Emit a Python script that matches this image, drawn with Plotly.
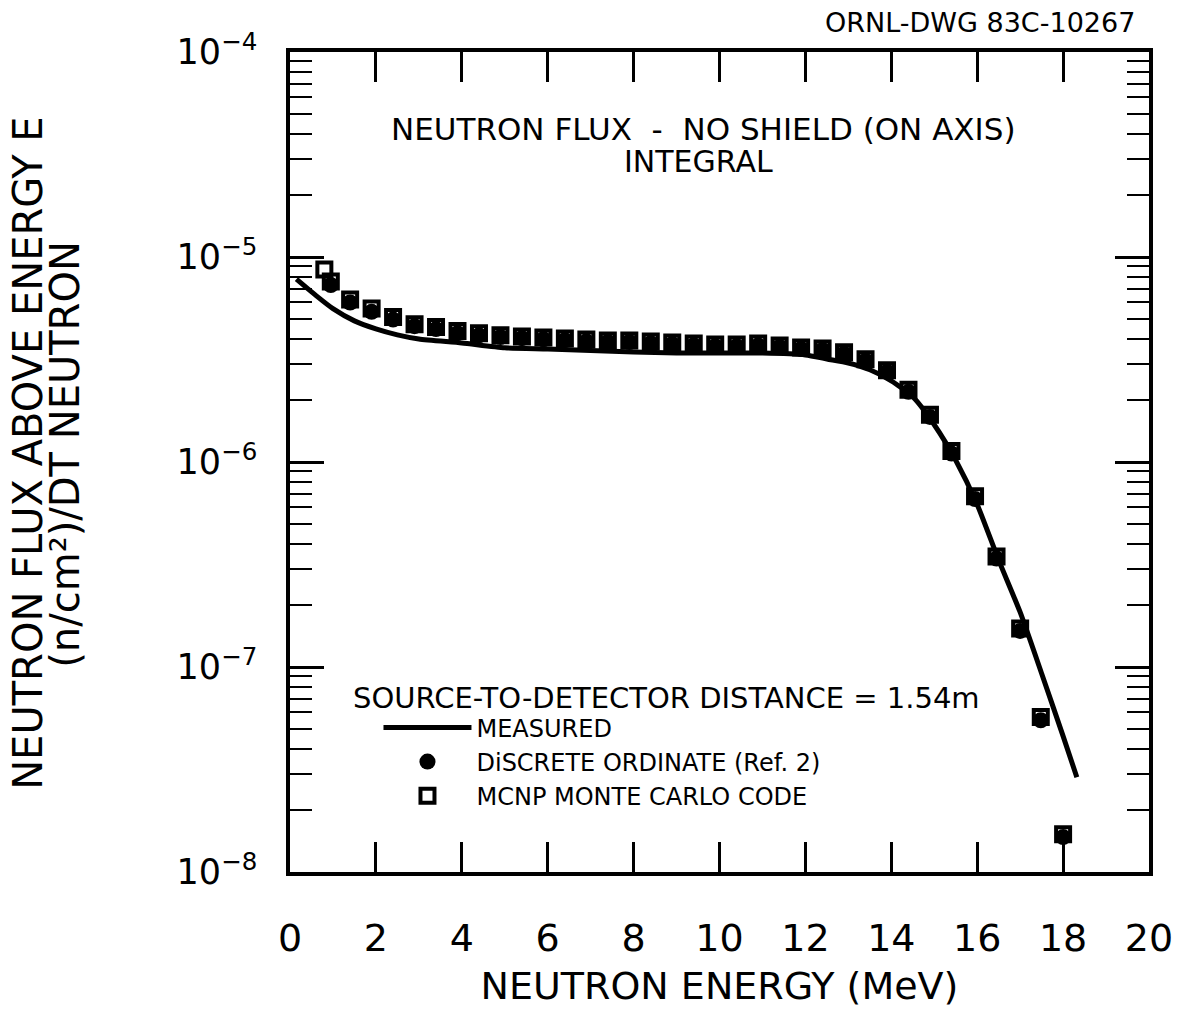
import plotly.graph_objects as go

# ---------------- data ----------------
measured_e = [0.15, 0.6, 1.0, 1.5, 2.0, 2.5, 3.0, 4.0, 5.0, 6.0, 7.0, 8.0, 9.0, 10.0,
              11.0, 12.0, 12.5, 13.0, 13.5, 14.0, 14.5, 15.0, 15.5, 16.0, 16.5, 17.0,
              17.5, 18.0, 18.32]
measured_flux = [7.8e-6, 6.5e-6, 5.6e-6, 4.88e-6, 4.46e-6, 4.17e-6, 3.98e-6, 3.81e-6,
                 3.61e-6, 3.56e-6, 3.5e-6, 3.44e-6, 3.4e-6, 3.4e-6, 3.4e-6, 3.33e-6,
                 3.18e-6, 3.04e-6, 2.82e-6, 2.49e-6, 2.08e-6, 1.52e-6, 1.02e-6, 6.2e-7,
                 3.32e-7, 1.85e-7, 9.3e-8, 4.6e-8, 2.9e-8]

mcnp_e = [0.8, 0.95, 1.4, 1.9, 2.4, 2.9, 3.4, 3.9, 4.4, 4.9, 5.4, 5.9, 6.4, 6.9, 7.4,
          7.9, 8.4, 8.9, 9.4, 9.9, 10.4, 10.9, 11.4, 11.9, 12.4, 12.9, 13.4, 13.9,
          14.4, 14.9, 15.4, 15.95, 16.45, 17.0, 17.48, 18.0]
mcnp_flux = [8.7e-6, 7.6e-6, 6.2e-6, 5.6e-6, 5.1e-6, 4.7e-6, 4.55e-6, 4.35e-6, 4.25e-6,
             4.15e-6, 4.1e-6, 4.05e-6, 4.0e-6, 3.96e-6, 3.92e-6, 3.92e-6, 3.87e-6,
             3.83e-6, 3.78e-6, 3.74e-6, 3.74e-6, 3.78e-6, 3.7e-6, 3.62e-6, 3.58e-6,
             3.43e-6, 3.17e-6, 2.8e-6, 2.25e-6, 1.7e-6, 1.13e-6, 6.8e-7, 3.46e-7,
             1.54e-7, 5.7e-8, 1.53e-8]

do_e = [0.95, 1.4, 1.9, 2.4, 2.9, 3.4, 3.9, 4.4, 4.9, 5.4, 5.9, 6.4, 6.9, 7.4, 7.9,
        8.4, 8.9, 9.4, 9.9, 10.4, 10.9, 11.4, 11.9, 12.4, 12.9, 13.4, 13.9, 14.4,
        14.9, 15.4, 15.95, 16.45, 17.0, 17.48, 18.0]
do_flux = [7.3e-6, 6.0e-6, 5.4e-6, 4.95e-6, 4.6e-6, 4.45e-6, 4.25e-6, 4.15e-6, 4.07e-6,
           4.02e-6, 3.97e-6, 3.93e-6, 3.88e-6, 3.85e-6, 3.85e-6, 3.8e-6, 3.76e-6,
           3.71e-6, 3.67e-6, 3.67e-6, 3.7e-6, 3.64e-6, 3.56e-6, 3.52e-6, 3.38e-6,
           3.12e-6, 2.76e-6, 2.2e-6, 1.66e-6, 1.1e-6, 6.6e-7, 3.38e-7, 1.5e-7,
           5.5e-8, 1.48e-8]

x_tick_vals = [0, 2, 4, 6, 8, 10, 12, 14, 16, 18, 20]
x_tick_text = ["0", "2", "4", "6", "8", "10", "12", "14", "16", "18", "20"]
y_tick_vals = [1e-8, 1e-7, 1e-6, 1e-5, 1e-4]
y_tick_text = ["10<sup>−8</sup>", "10<sup>−7</sup>", "10<sup>−6</sup>",
               "10<sup>−5</sup>", "10<sup>−4</sup>"]

FONT = "DejaVu Sans"

fig = go.Figure()
fig.add_trace(go.Scatter(
    x=measured_e, y=measured_flux, mode="lines", name="MEASURED",
    line=dict(color="black", width=5, shape="spline", smoothing=0.6)))
fig.add_trace(go.Scatter(
    x=do_e, y=do_flux, mode="markers", name="DiSCRETE ORDINATE (Ref. 2)",
    marker=dict(symbol="circle", size=16, color="black")))
fig.add_trace(go.Scatter(
    x=mcnp_e, y=mcnp_flux, mode="markers", name="MCNP MONTE CARLO CODE",
    marker=dict(symbol="square-open", size=14, color="black", line=dict(width=4, color="black"))))

minor_vals = [k * 10.0 ** e for e in range(-8, -4) for k in range(2, 10)]

fig.update_layout(
    width=1185, height=1013,
    margin=dict(l=290, r=33, t=52, b=138),
    paper_bgcolor="white", plot_bgcolor="white",
    font=dict(family=FONT, color="black"),
    showlegend=True,
    legend=dict(x=0.103, y=0.2033, xanchor="left", yanchor="top",
                bgcolor="rgba(0,0,0,0)", font=dict(size=24, family=FONT),
                itemwidth=88, tracegroupgap=0),
    xaxis=dict(range=[0, 20], tickvals=x_tick_vals, ticktext=x_tick_text,
               ticks="inside", ticklen=30, tickwidth=2.5, tickcolor="black",
               showline=True, linecolor="black", linewidth=3.5, mirror="ticks",
               showgrid=False, zeroline=False,
               tickfont=dict(size=38, family=FONT), ticklabelstandoff=30,
               title=dict(text="NEUTRON ENERGY (MeV)", font=dict(size=38, family=FONT),
                          standoff=14)),
    yaxis=dict(type="log", range=[-8, -4], tickvals=y_tick_vals, ticktext=y_tick_text,
               ticks="inside", ticklen=34, tickwidth=2.5, tickcolor="black",
               showline=True, linecolor="black", linewidth=3.5, mirror="ticks",
               showgrid=False, zeroline=False,
               minor=dict(tickvals=minor_vals, ticks="inside", ticklen=22,
                          tickwidth=2, tickcolor="black", showgrid=False),
               tickfont=dict(size=35, family=FONT), ticklabelstandoff=22),
)

# y-axis title, two closely spaced rotated lines
fig.add_annotation(text="NEUTRON FLUX ABOVE ENERGY E",
                   xref="paper", yref="paper", x=-0.305, y=0.51,
                   xanchor="center", yanchor="middle", textangle=-90, showarrow=False,
                   font=dict(size=40, family=FONT))
fig.add_annotation(text="(n/cm²)/DT NEUTRON",
                   xref="paper", yref="paper", x=-0.262, y=0.51,
                   xanchor="center", yanchor="middle", textangle=-90, showarrow=False,
                   font=dict(size=40, family=FONT))

fig.add_annotation(text="NEUTRON FLUX  -  NO SHIELD (ON AXIS)",
                   xref="paper", yref="paper", x=0.481, y=0.906,
                   xanchor="center", yanchor="middle", showarrow=False,
                   font=dict(size=31, family=FONT))
fig.add_annotation(text="INTEGRAL",
                   xref="paper", yref="paper", x=0.475, y=0.866,
                   xanchor="center", yanchor="middle", showarrow=False,
                   font=dict(size=30, family=FONT))
fig.add_annotation(text="SOURCE-TO-DETECTOR DISTANCE = 1.54m",
                   xref="paper", yref="paper", x=0.071, y=0.212,
                   xanchor="left", yanchor="middle", showarrow=False,
                   font=dict(size=29, family=FONT))
fig.add_annotation(text="ORNL-DWG 83C-10267",
                   xref="paper", yref="paper", x=0.986, y=1.0,
                   yshift=30, xanchor="right", yanchor="middle", showarrow=False,
                   font=dict(size=27, family=FONT))

fig.write_html("out.html")
